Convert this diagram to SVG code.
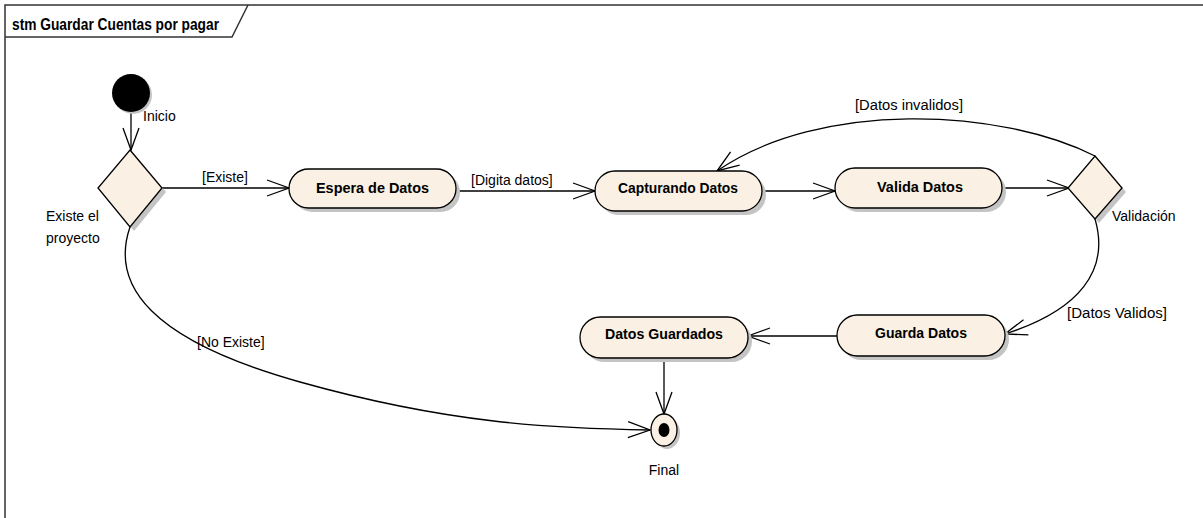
<svg xmlns="http://www.w3.org/2000/svg" width="1203" height="518" viewBox="0 0 1203 518">
  <style>
    .frame { fill: none; stroke: #333; stroke-width: 1.5; }
    .title { font-family: "Liberation Sans", Arial, sans-serif; font-weight: bold; font-size: 16px; fill: #000; }
    .state { fill: #FAF0E3; stroke: #000; stroke-width: 1.3; }
    .shadow { fill: #C4C4C4; stroke: none; }
    .name { font-family: "Liberation Sans", Arial, sans-serif; font-weight: bold; font-size: 15.5px; fill: #000; text-anchor: middle; }
    .label { font-family: "Liberation Sans", Arial, sans-serif; font-size: 14px; fill: #000; }
    .edge { fill: none; stroke: #000; stroke-width: 1.3; }
  </style>
  <defs>
    <marker id="open" markerUnits="userSpaceOnUse" markerWidth="26" markerHeight="20" viewBox="-24 -10 26 20" refX="0" refY="0" orient="auto">
      <path d="M -22 -8 L 0 0 L -22 8" fill="none" stroke="#000" stroke-width="1.3"/>
    </marker>
  </defs>

  <rect x="0" y="0" width="1203" height="518" fill="#fff"/>

  <!-- diagram frame with name tab -->
  <g id="frame">
    <path class="frame" d="M 5 518 L 5 5 L 1203 5"/>
    <path class="frame" d="M 5 37 L 232 37 L 248 5"/>
    <text class="title" x="12" y="30" textLength="207" lengthAdjust="spacingAndGlyphs">stm Guardar Cuentas por pagar</text>
  </g>

  <!-- transitions -->
  <g id="connectors">
    <line class="edge" x1="131" y1="112" x2="131" y2="150" marker-end="url(#open)"/>
    <line class="edge" x1="162" y1="188" x2="289" y2="188" marker-end="url(#open)"/>
    <line class="edge" x1="456" y1="191" x2="595" y2="191" marker-end="url(#open)"/>
    <line class="edge" x1="762" y1="191" x2="835" y2="191" marker-end="url(#open)"/>
    <line class="edge" x1="1002" y1="188" x2="1069" y2="188" marker-end="url(#open)"/>
    <path class="edge" d="M 1095 156 C 1000 108, 820 100, 717 171" marker-end="url(#open)"/>
    <path class="edge" d="M 1095 219 C 1110 270, 1080 310, 1005 334" marker-end="url(#open)"/>
    <line class="edge" x1="837" y1="336" x2="748" y2="336" marker-end="url(#open)"/>
    <line class="edge" x1="664" y1="358" x2="664" y2="414" marker-end="url(#open)"/>
    <path class="edge" d="M 130 227 C 110 285, 150 340, 300 382 S 550 428, 650 430" marker-end="url(#open)"/>

    <text class="label" x="202" y="182">[Existe]</text>
    <text class="label" x="471" y="185">[Digita datos]</text>
    <text class="label" x="855" y="110" textLength="108" lengthAdjust="spacingAndGlyphs">[Datos invalidos]</text>
    <text class="label" x="1067" y="318" textLength="100" lengthAdjust="spacingAndGlyphs">[Datos Validos]</text>
    <text class="label" x="197" y="347">[No Existe]</text>
  </g>

  <g id="inicio">
    <ellipse class="shadow" cx="133" cy="95" rx="19" ry="19"/>
    <ellipse cx="131" cy="93" rx="19" ry="19" fill="#000"/>
    <text class="label" x="143" y="121">Inicio</text>
  </g>

  <g id="existe-proyecto">
    <polygon class="shadow" points="134,154 166,192 134,231 102,192"/>
    <polygon class="state" points="130,150 162,188 130,227 98,188"/>
    <text class="label" x="46" y="221">Existe el</text>
    <text class="label" x="46" y="243">proyecto</text>
  </g>

  <g id="espera-datos">
    <rect class="shadow" x="293" y="173" width="167" height="39" rx="19.5"/>
    <rect class="state" x="289" y="169" width="167" height="39" rx="19.5"/>
    <text class="name" x="372.5" y="193" textLength="113" lengthAdjust="spacingAndGlyphs">Espera de Datos</text>
  </g>

  <g id="capturando-datos">
    <rect class="shadow" x="599" y="175" width="167" height="40" rx="20"/>
    <rect class="state" x="595" y="171" width="167" height="40" rx="20"/>
    <text class="name" x="678" y="193" textLength="120" lengthAdjust="spacingAndGlyphs">Capturando Datos</text>
  </g>

  <g id="valida-datos">
    <rect class="shadow" x="839" y="172" width="167" height="40" rx="20"/>
    <rect class="state" x="835" y="168" width="167" height="40" rx="20"/>
    <text class="name" x="920" y="192" textLength="86" lengthAdjust="spacingAndGlyphs">Valida Datos</text>
  </g>

  <g id="validacion">
    <polygon class="shadow" points="1099,160 1126,192 1099,223 1072,192"/>
    <polygon class="state" points="1095,156 1122,188 1095,219 1068,188"/>
    <text class="label" x="1112" y="221">Validación</text>
  </g>

  <g id="guarda-datos">
    <rect class="shadow" x="841" y="319" width="168" height="41" rx="20.5"/>
    <rect class="state" x="837" y="315" width="168" height="41" rx="20.5"/>
    <text class="name" x="921" y="338" textLength="92" lengthAdjust="spacingAndGlyphs">Guarda Datos</text>
  </g>

  <g id="datos-guardados">
    <rect class="shadow" x="584" y="321" width="168" height="41" rx="20.5"/>
    <rect class="state" x="580" y="317" width="168" height="41" rx="20.5"/>
    <text class="name" x="664" y="339" textLength="118" lengthAdjust="spacingAndGlyphs">Datos Guardados</text>
  </g>

  <g id="final">
    <ellipse class="shadow" cx="667" cy="433" rx="13" ry="16"/>
    <ellipse class="state" cx="664" cy="430" rx="13" ry="16"/>
    <ellipse cx="664" cy="430" rx="5.5" ry="7" fill="#000"/>
    <text class="label" x="664" y="475" text-anchor="middle">Final</text>
  </g>
</svg>
